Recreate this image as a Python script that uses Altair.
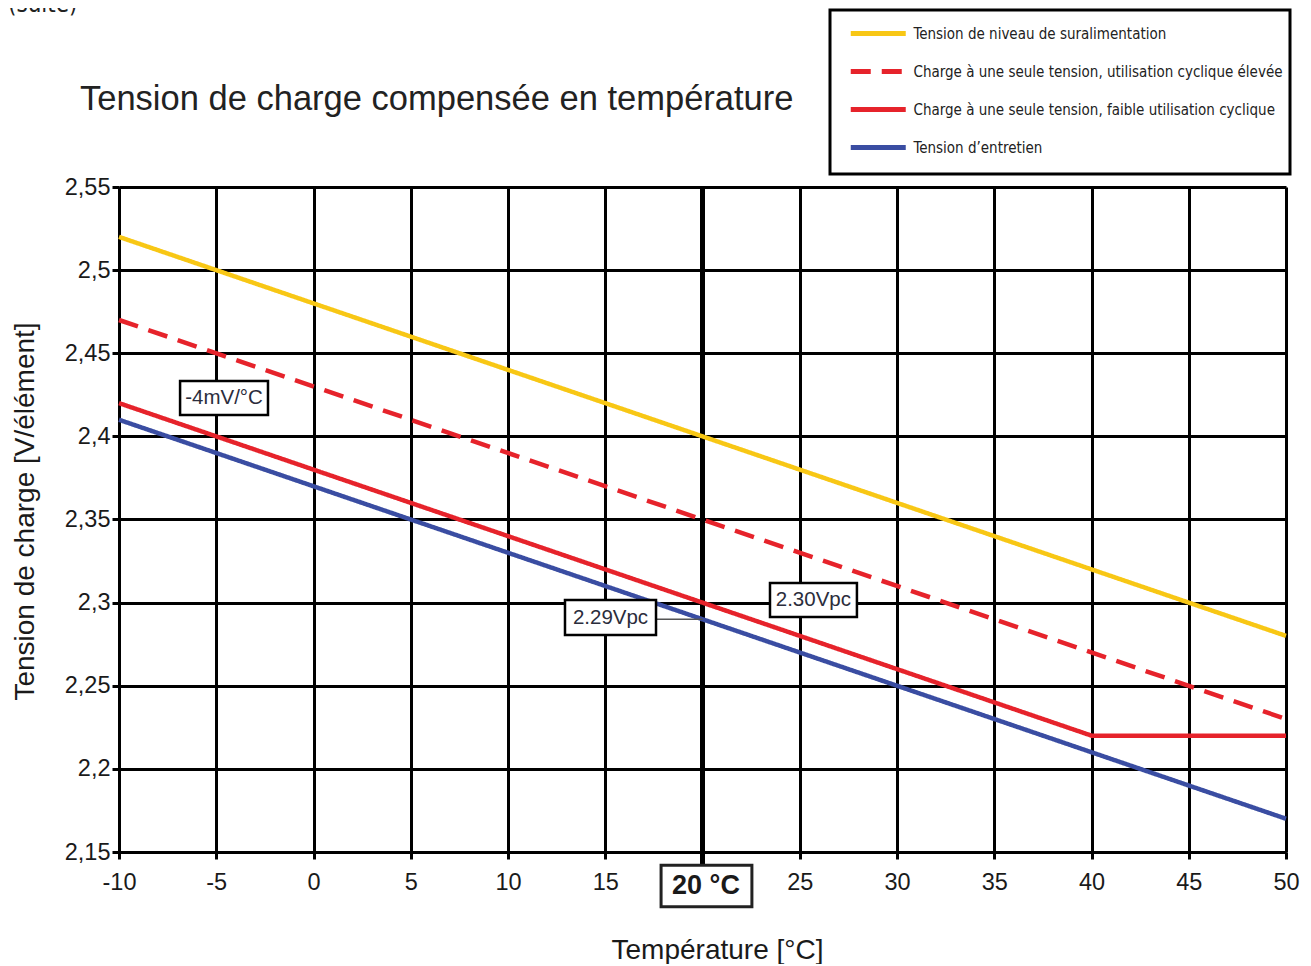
import altair as alt
import pandas as pd

# ---- data -------------------------------------------------------------
series = [
    "Tension de niveau de suralimentation",
    "Charge à une seule tension, utilisation cyclique élevée",
    "Charge à une seule tension, faible utilisation cyclique",
    "Tension d’entretien",
]
colors = ["#F8C715", "#E6232B", "#E6232B", "#3A4DA2"]
dashes = [[1, 0], [20, 11], [1, 0], [1, 0]]

boost_t = [-10, 50]
boost_v = [2.52, 2.28]
cyc_hi_t = [-10, 50]
cyc_hi_v = [2.47, 2.23]
cyc_lo_t = [-10, 40, 50]
cyc_lo_v = [2.42, 2.22, 2.22]
float_t = [-10, 50]
float_v = [2.41, 2.17]

x_ticks = [-10, -5, 0, 5, 10, 15, 20, 25, 30, 35, 40, 45, 50]
y_ticks = [2.15, 2.2, 2.25, 2.3, 2.35, 2.4, 2.45, 2.5, 2.55]

# annotation boxes (data coordinates)
ann_text = ["-4mV/°C", "2.29Vpc", "2.30Vpc"]
ann_x = [-4.6, 15.27, 25.7]
ann_y = [2.423, 2.291, 2.3016]
box_x1 = [-6.86, 12.93, 23.47]
box_x2 = [-2.34, 17.61, 27.94]
box_y1 = [2.4333, 2.3016, 2.3118]
box_y2 = [2.4129, 2.2805, 2.2913]

ref_t = 20
ref_label = "20 °C"

title_text = "Tension de charge compensée en température"
suite_text = "(suite)"

# ---- frames -----------------------------------------------------------
rows = []
for name, ts, vs in zip(series, [boost_t, cyc_hi_t, cyc_lo_t, float_t],
                        [boost_v, cyc_hi_v, cyc_lo_v, float_v]):
    for t, v in zip(ts, vs):
        rows.append({"serie": name, "t": t, "v": v})
df = pd.DataFrame(rows)

ann = pd.DataFrame({"label": ann_text, "t": ann_x, "v": ann_y,
                    "x1": box_x1, "x2": box_x2, "y1": box_y1, "y2": box_y2})
ref = pd.DataFrame({"t": [ref_t], "v": [2.55],
                    "label": [ref_label], "ty": [2.1295], "tx": [20.18],
                    "x1": [17.87], "x2": [22.54], "y1": [2.142], "y2": [2.117]})
leader = pd.DataFrame({"t": [17.61], "t2": [20], "v": [2.29]})

FONT = "Liberation Sans, Arial, Helvetica, sans-serif"
NARROW = "Liberation Sans Narrow, Arial Narrow, DejaVu Sans Condensed, sans-serif"

xscale = alt.Scale(domain=[-10, 50], nice=False, zero=False)
yscale = alt.Scale(domain=[2.15, 2.55], nice=False, zero=False)

# long horizontal line symbol (path twice the nominal symbol width)
legend = alt.Legend(
    title=" ", titleOrient="bottom", titleFontSize=2, titlePadding=7,
    orient="none", legendX=711, legendY=-177,
    symbolType="M-2,0H2", symbolSize=756.25, symbolStrokeWidth=5,
    symbolOffset=24.75,
    labelFont=NARROW, labelFontSize=15, labelColor="#222222", labelLimit=600,
    labelOffset=18.75, padding=7, rowPadding=11,
    strokeColor="black", fillColor="white",
)

lines = alt.Chart(df).mark_line(strokeWidth=4.5, strokeCap="butt").encode(
    x=alt.X("t:Q", scale=xscale,
            axis=alt.Axis(values=x_ticks, title="Température [°C]",
                          labelExpr="datum.value == 20 ? '' : toString(datum.value)",
                          labelFlush=False,
                          labelPadding=11, titleX=598, titleY=98,
                          titleBaseline="middle")),
    y=alt.Y("v:Q", scale=yscale,
            axis=alt.Axis(values=y_ticks, title="Tension de charge [V/élément]",
                          labelExpr="replace(format(datum.value, '.2~f'), '.', ',')",
                          labelFlush=False,
                          labelPadding=2, titleX=-94, titleY=324,
                          titleAlign="center", titleBaseline="middle")),
    color=alt.Color("serie:N", scale=alt.Scale(domain=series, range=colors),
                    legend=legend),
    strokeDash=alt.StrokeDash("serie:N", scale=alt.Scale(domain=series, range=dashes),
                              legend=legend),
)

rule20 = alt.Chart(ref).mark_rule(strokeWidth=5, color="black").encode(
    x="t:Q", y="v:Q", y2="y1"
)

lead = alt.Chart(leader).mark_rule(strokeWidth=1.5, color="#555555").encode(
    x="t:Q", x2="t2", y="v:Q"
)

boxes = alt.Chart(ann).mark_rect(fill="white", stroke="black", strokeWidth=2.5).encode(
    x="x1:Q", x2="x2", y="y1:Q", y2="y2"
)
texts = alt.Chart(ann).mark_text(font=FONT, fontSize=20.5, color="#2b2d3c").encode(
    x="t:Q", y="v:Q", text="label:N"
)

refbox = alt.Chart(ref).mark_rect(fill="white", stroke="#222222", strokeWidth=3).encode(
    x="x1:Q", x2="x2", y="y1:Q", y2="y2"
)
reftext = alt.Chart(ref).mark_text(font=FONT, fontSize=27, fontWeight="bold",
                                   color="#1a1a1a").encode(
    x="tx:Q", y="ty:Q", text="label:N"
)

suite = alt.Chart(pd.DataFrame({"s": [suite_text]})).mark_text(
    font=NARROW, fontSize=24, color="#222222", align="left", baseline="alphabetic"
).encode(x=alt.value(-111), y=alt.value(-175), text="s:N")

title = alt.Chart(pd.DataFrame({"s": [title_text]})).mark_text(
    font=FONT, fontSize=34.5, color="#222222", align="left", baseline="middle"
).encode(x=alt.value(-39), y=alt.value(-87), text="s:N")

chart = alt.layer(
    rule20, lines, lead, boxes, texts, refbox, reftext, suite, title
).properties(
    width=1167, height=665,
    autosize=alt.AutoSizeParams(type="none"),
    padding={"left": 111, "top": 179, "right": 15, "bottom": 112},
).configure_view(stroke=None).configure_axis(
    grid=True, gridColor="black", gridWidth=3, gridOpacity=1,
    domainColor="black", domainWidth=3,
    tickColor="black", tickWidth=3, tickSize=7,
    labelFont=FONT, labelFontSize=23.5, labelColor="#1a1a1a",
    titleFont=FONT, titleFontSize=28, titleFontWeight="normal", titleColor="#1a1a1a",
).configure_legend(strokeWidth=3)

chart.save("out.html", embed_options={"renderer": "svg", "actions": False})
